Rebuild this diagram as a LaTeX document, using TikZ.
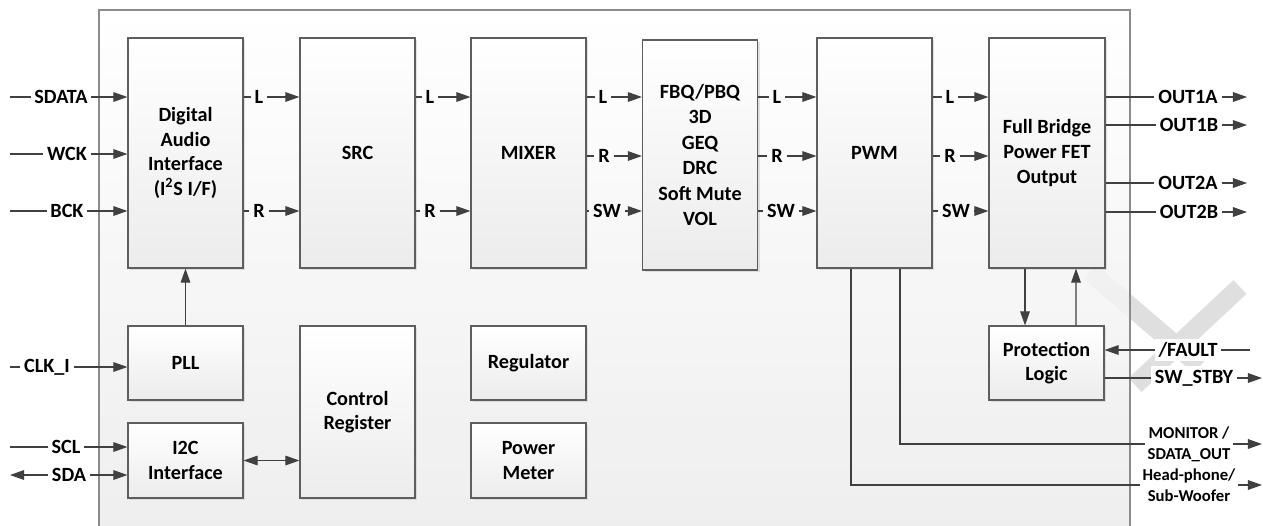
\documentclass[tikz,border=0pt]{standalone}
\usepackage{fontspec}
\setmainfont{Carlito}
\usetikzlibrary{calc,arrows.meta,shadows}
\definecolor{linegray}{HTML}{404040}
\definecolor{boxgray}{HTML}{5E5E5E}
\tikzset{
	block/.style={draw=boxgray, line width=0.7pt, top color=white, bottom color=gray!15, minimum width=2.3cm, align=center, drop shadow={shadow xshift=1.2pt, shadow yshift=-1.2pt, fill=gray!45, opacity=0.5}},
	sig/.style={inner sep=2pt},
	outsig/.style={inner sep=2pt, fill=white},
	smallsig/.style={inner sep=1.5pt, fill=white, align=center, font=\fontsize{9.5}{12}\selectfont\bfseries},
	wire/.style={draw=linegray, line width=0.6pt},
	watermark/.style={draw=gray!25, line width=0.38cm}
}

\begin{document}
\begin{tikzpicture}[x=0.02cm, y=-0.02cm, font=\fontsize{11.5}{14}\selectfont\bfseries, >={Triangle[length=8pt,width=5.5pt]}]
			%%%%% START %%%%%
			\useasboundingbox (0, 0) rectangle (1263, 525);
			\clip (0, 0) rectangle (1263, 525);
			
			\draw[watermark] (1090, 272) -- (1200, 366);
			\draw[watermark] (1240, 287) -- (1135, 385);
			
			\draw[draw=gray!90, line width=1pt, top color=white, bottom color=gray!16, fill opacity=0.85] (99, 10) rectangle (1130, 545);
			
			\node[block, minimum height=4.6cm] (dai) at (185.5, 153) {Digital\\Audio\\Interface\\(I\textsuperscript{2}S I/F)};
			\node[block, minimum height=4.6cm] (src) at (357.5, 153) {SRC};
			\node[block, minimum height=4.6cm] (mixer) at (528.5, 153) {MIXER};
			\node[block, minimum height=4.6cm, font=\fontsize{11.5}{14.5}\selectfont\bfseries] (fbq) at (700, 155) {FBQ/PBQ\\3D\\GEQ\\DRC\\Soft Mute\\VOL};
			\node[block, minimum height=4.6cm] (pwm) at (874.5, 153) {PWM};
			\node[block, minimum height=4.6cm, minimum width=2.32cm] (fb) at (1047, 153) {Full Bridge\\Power FET\\Output};
			
			\node[block, minimum height=1.48cm] (pll) at (185.5, 363) {PLL};
			\node[block, minimum height=1.5cm] (i2c) at (185.5, 460.5) {I2C\\Interface};
			\node[block, minimum height=3.44cm] (creg) at (357.5, 412) {Control\\Register};
			\node[block, minimum height=1.48cm] (reg) at (528.5, 363) {Regulator};
			\node[block, minimum height=1.5cm] (pmeter) at (528.5, 460.5) {Power\\Meter};
			\node[block, minimum height=1.48cm] (prot) at (1046.5, 363) {Protection\\Logic};
			
			\node[outsig] (sdata) at (61, 97) {SDATA};
			\node[outsig] (wck) at (67, 154) {WCK};
			\node[outsig] (bck) at (67, 211) {BCK};
			\node[outsig] (clk) at (47, 367) {CLK\_I};
			\node[outsig] (scl) at (66, 447) {SCL};
			\node[outsig] (sda) at (69, 475) {SDA};
			\coordinate (sdataIn) at (10, 97);
			\coordinate (wckIn) at (10, 154);
			\coordinate (bckIn) at (10, 211);
			\coordinate (clkIn) at (10, 367);
			\coordinate (sclIn) at (10, 447);
			\coordinate (sdaIn) at (10, 475);
			\draw[wire] (sdataIn) -- (sdata);
			\draw[wire, ->] (sdata) -- (dai.west |- sdata);
			\draw[wire] (wckIn) -- (wck);
			\draw[wire, ->] (wck) -- (dai.west |- wck);
			\draw[wire] (bckIn) -- (bck);
			\draw[wire, ->] (bck) -- (dai.west |- bck);
			\draw[wire] (clkIn) -- (clk);
			\draw[wire, ->] (clk) -- (pll.west |- clk);
			\draw[wire] (sclIn) -- (scl);
			\draw[wire, ->] (scl) -- (i2c.west |- scl);
			\draw[wire, ->] (sda) -- (sdaIn);
			\draw[wire, ->] (sda) -- (i2c.west |- sda);
			
			\draw[wire, ->] (pll) -- (dai);
			\draw[wire, <->] (i2c) -- (creg.west |- i2c);
			
			\node[sig] (daiL) at (259, 97) {L};
			\node[sig] (daiR) at (259, 211) {R};
			\draw[wire] (dai.east |- daiL) -- (daiL);
			\draw[wire, ->] (daiL) -- (src.west |- daiL);
			\draw[wire] (dai.east |- daiR) -- (daiR);
			\draw[wire, ->] (daiR) -- (src.west |- daiR);
			
			\node[sig] (srcL) at (430, 97) {L};
			\node[sig] (srcR) at (430, 211) {R};
			\draw[wire] (src.east |- srcL) -- (srcL);
			\draw[wire, ->] (srcL) -- (mixer.west |- srcL);
			\draw[wire] (src.east |- srcR) -- (srcR);
			\draw[wire, ->] (srcR) -- (mixer.west |- srcR);
			
			\node[sig] (mixL) at (603, 97) {L};
			\node[sig] (mixR) at (604, 156) {R};
			\node[sig] (mixSW) at (607, 211) {SW};
			\draw[wire] (mixer.east |- mixL) -- (mixL);
			\draw[wire, ->] (mixL) -- (fbq.west |- mixL);
			\draw[wire] (mixer.east |- mixR) -- (mixR);
			\draw[wire, ->] (mixR) -- (fbq.west |- mixR);
			\draw[wire] (mixer.east |- mixSW) -- (mixSW);
			\draw[wire, ->] (mixSW) -- (fbq.west |- mixSW);
			
			\node[sig] (fbqL) at (777, 97) {L};
			\node[sig] (fbqR) at (777, 156) {R};
			\node[sig] (fbqSW) at (781, 211) {SW};
			\draw[wire] (fbq.east |- fbqL) -- (fbqL);
			\draw[wire, ->] (fbqL) -- (pwm.west |- fbqL);
			\draw[wire] (fbq.east |- fbqR) -- (fbqR);
			\draw[wire, ->] (fbqR) -- (pwm.west |- fbqR);
			\draw[wire] (fbq.east |- fbqSW) -- (fbqSW);
			\draw[wire, ->] (fbqSW) -- (pwm.west |- fbqSW);
			
			\node[sig] (pwmL) at (950, 97) {L};
			\node[sig] (pwmR) at (950, 156) {R};
			\node[sig] (pwmSW) at (956, 211) {SW};
			\draw[wire] (pwm.east |- pwmL) -- (pwmL);
			\draw[wire, ->] (pwmL) -- (fb.west |- pwmL);
			\draw[wire] (pwm.east |- pwmR) -- (pwmR);
			\draw[wire, ->] (pwmR) -- (fb.west |- pwmR);
			\draw[wire] (pwm.east |- pwmSW) -- (pwmSW);
			\draw[wire, ->] (pwmSW) -- (fb.west |- pwmSW);
			
			\node[outsig] (out1a) at (1188, 97) {OUT1A};
			\node[outsig] (out1b) at (1189, 125) {OUT1B};
			\node[outsig] (out2a) at (1188, 183) {OUT2A};
			\node[outsig] (out2b) at (1189, 212) {OUT2B};
			\coordinate (out1aEnd) at (1247, 97);
			\coordinate (out1bEnd) at (1247, 125);
			\coordinate (out2aEnd) at (1247, 183);
			\coordinate (out2bEnd) at (1247, 212);
			\draw[wire] (fb.east |- out1a) -- (out1a);
			\draw[wire, ->] (out1a) -- (out1aEnd);
			\draw[wire] (fb.east |- out1b) -- (out1b);
			\draw[wire, ->] (out1b) -- (out1bEnd);
			\draw[wire] (fb.east |- out2a) -- (out2a);
			\draw[wire, ->] (out2a) -- (out2aEnd);
			\draw[wire] (fb.east |- out2b) -- (out2b);
			\draw[wire, ->] (out2b) -- (out2bEnd);
			
			\draw[wire, ->] ($(fb.south)+(-22, 0)$) -- ($(prot.north)+(-21.5, 0)$);
			\draw[wire, ->] ($(prot.north)+(29.5, 0)$) -- ($(fb.south)+(29, 0)$);
			
			\node[outsig] (fault) at (1188, 350) {/FAULT};
			\node[outsig] (stby) at (1194, 378) {SW\_STBY};
			\coordinate (faultIn) at (1250, 350);
			\coordinate (stbyEnd) at (1262, 378);
			\draw[wire] (faultIn) -- (fault);
			\draw[wire, ->] (fault) -- (prot.east |- fault);
			\draw[wire] (prot.east |- stby) -- (stby);
			\draw[wire, ->] (stby) -- (stbyEnd);
			
			\node[smallsig] (monitor) at (1189, 444) {MONITOR /\\SDATA\_OUT};
			\node[smallsig] (hphone) at (1189, 485) {Head-phone/\\Sub-Woofer};
			\coordinate (monitorEnd) at (1262, 444);
			\coordinate (hphoneEnd) at (1262, 485);
			\draw[wire] ($(pwm.south)+(25.5, 0)$) |- (monitor);
			\draw[wire, ->] (monitor) -- (monitorEnd);
			\draw[wire] ($(pwm.south)+(-23.5, 0)$) |- (hphone);
			\draw[wire, ->] (hphone) -- (hphoneEnd);
			
			%%%%% END %%%%%
\end{tikzpicture}
\end{document}
